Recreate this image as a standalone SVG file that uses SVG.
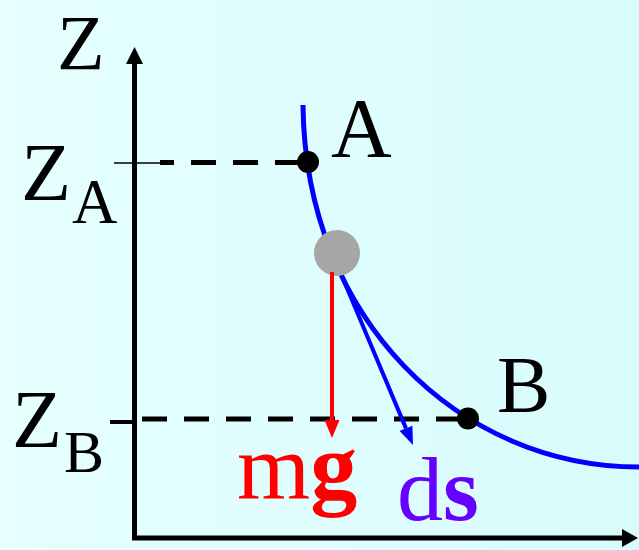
<svg xmlns="http://www.w3.org/2000/svg" width="639" height="550" viewBox="0 0 639 550">
<defs>
<linearGradient id="bg" x1="0" y1="0" x2="1" y2="0">
<stop offset="0" stop-color="#e6ffff"/>
<stop offset="1" stop-color="#d8fbfc"/>
</linearGradient>
</defs>
<style>
.t{font-family:"Liberation Serif","Times New Roman",serif;fill:#000}
.axis{stroke:#000;stroke-width:5;fill:none}
.dash{stroke:#000;stroke-width:5;stroke-dasharray:25 17;fill:none}
.b{font-weight:bold}
</style>
<rect x="0" y="0" width="639" height="550" fill="url(#bg)"/>
<g id="connectors">
<line class="axis" x1="134.5" y1="60" x2="134.5" y2="537"/>
<polygon points="126,64 134.5,47 143,64" fill="#000"/>
<line class="axis" x1="132" y1="538" x2="624" y2="538"/>
<polygon points="622,529 638,538 622,547" fill="#000"/>
<line x1="114" y1="163" x2="173" y2="163" stroke="#000" stroke-width="1.5"/>
<line class="dash" x1="160" y1="162.5" x2="308" y2="162.5" stroke-dashoffset="11"/>
<line x1="110" y1="422" x2="136" y2="422" stroke="#000" stroke-width="4"/>
<line class="dash" x1="142" y1="419" x2="468" y2="419"/>
<path id="curve" d="M303,105 C305,320 460,467 639,467" fill="none" stroke="#0000ff" stroke-width="5"/>
<line x1="336" y1="262" x2="406" y2="428.4" stroke="#0000ff" stroke-width="4"/>
<polygon points="399.6,431.1 413,445 412.4,425.7" fill="#0000ff"/>
</g>
<g id="ball">
<circle cx="337" cy="253" r="23" fill="#a6a6a6"/>
</g>
<g id="mg-arrow">
<line x1="332" y1="272" x2="332" y2="424" stroke="#ff0000" stroke-width="4"/>
<polygon points="324.5,420 339.5,420 332,438" fill="#ff0000"/>
</g>
<g id="pointA">
<circle cx="308" cy="162" r="11" fill="#000"/>
<text class="t" x="331" y="157" font-size="84">A</text>
</g>
<g id="pointB">
<circle cx="468" cy="418.5" r="11" fill="#000"/>
<text class="t" x="497" y="412" font-size="80">B</text>
</g>
<g id="labels">
<text class="t" x="57" y="69" font-size="78">Z</text>
<text class="t" x="21" y="200" font-size="82">Z</text>
<text class="t" x="72" y="223" font-size="63">A</text>
<text class="t" x="12" y="447" font-size="82">Z</text>
<text class="t" x="64" y="472" font-size="60">B</text>
<text class="t" x="237" y="498" font-size="94" style="fill:#ff0000">m<tspan class="b">g</tspan></text>
<text class="t" x="397" y="520" font-size="92" style="fill:#6600ff">d<tspan class="b">s</tspan></text>
</g>
</svg>
